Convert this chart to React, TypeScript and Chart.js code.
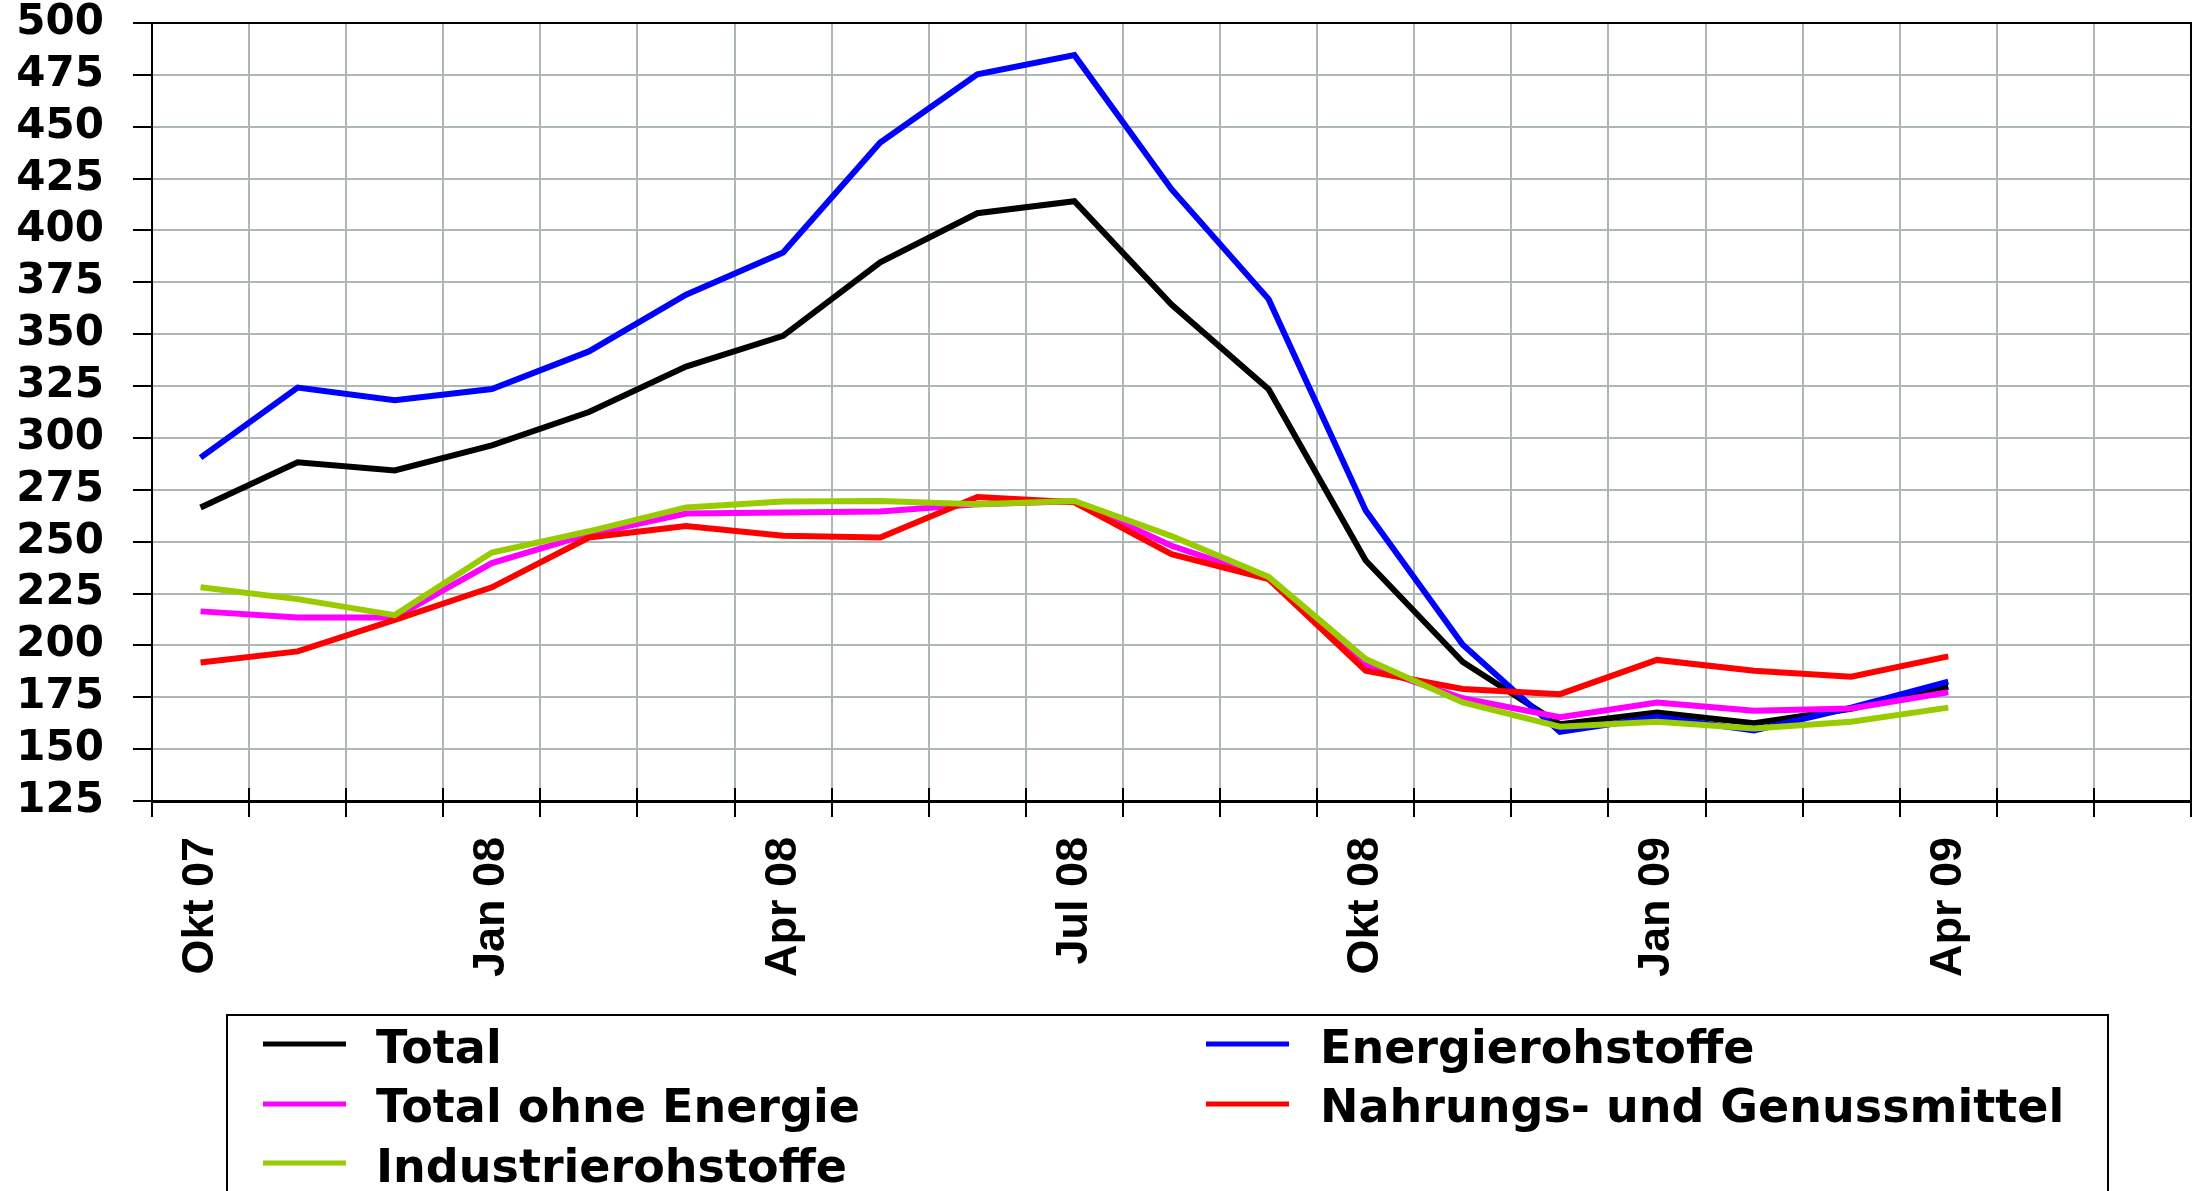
import React, { useEffect, useRef } from "react";
import { Chart, registerables } from "chart.js";

Chart.register(...registerables);

const months = [
  "Okt 07", "Nov 07", "Dez 07", "Jan 08", "Feb 08", "Mär 08", "Apr 08",
  "Mai 08", "Jun 08", "Jul 08", "Aug 08", "Sep 08", "Okt 08", "Nov 08",
  "Dez 08", "Jan 09", "Feb 09", "Mär 09", "Apr 09", "Mai 09", "Jun 09",
];

const total = [266.5, 288.3, 284.3, 296.4, 312.5, 334.4, 349.2, 384.6, 408.3, 414.1, 364.3, 323.5, 240.9, 192.0, 162.0, 167.7, 162.5, 169.5, 180.0];
const energierohstoffe = [290.5, 324.3, 318.2, 323.6, 341.7, 369.0, 389.4, 442.4, 475.3, 484.5, 419.9, 366.9, 265.0, 200.3, 158.3, 165.5, 159.0, 170.0, 182.5];
const totalOhneEnergie = [216.4, 213.5, 213.5, 239.7, 253.6, 263.6, 264.0, 264.5, 268.0, 269.5, 248.0, 232.4, 190.5, 174.5, 165.4, 172.5, 168.5, 169.6, 177.4];
const nahrungsmittel = [191.8, 197.1, 212.3, 228.0, 252.0, 257.6, 252.8, 252.0, 271.5, 269.0, 244.0, 232.0, 187.8, 179.0, 176.5, 193.0, 187.8, 184.9, 194.7];
const industrierohstoffe = [228.0, 222.3, 214.6, 244.8, 255.0, 266.5, 269.4, 269.6, 268.0, 269.6, 252.7, 233.0, 193.4, 172.5, 160.8, 163.2, 160.0, 163.2, 170.0];

const seriesNames = ["Total", "Energierohstoffe", "Total ohne Energie", "Nahrungs- und Genussmittel", "Industrierohstoffe"];
const seriesColors = ["#000000", "#0000ff", "#ff00ff", "#ff0000", "#99cc00"];
const seriesData = [total, energierohstoffe, totalOhneEnergie, nahrungsmittel, industrierohstoffe];

const yMin = 125;
const yMax = 500;
const yStep = 25;
const labelEvery = 3;

const W = 2199;
const H = 1191;
const GRID = "#adb8b4";

const framePlugin = {
  id: "frame",
  beforeDatasetsDraw(chart: any) {
    const { ctx, chartArea } = chart;
    const xs = chart.scales.x;
    ctx.save();
    ctx.strokeStyle = "#000";
    ctx.lineWidth = 2;
    ctx.strokeRect(chartArea.left, chartArea.top, chartArea.right - chartArea.left, chartArea.bottom - chartArea.top);
    const n = months.length;
    const step = (chartArea.right - chartArea.left) / n;
    for (let i = 0; i <= n; i++) {
      const x = Math.round(xs.getPixelForValue(i) - step / 2);
      ctx.beginPath();
      ctx.moveTo(x, chartArea.bottom - 13);
      ctx.lineTo(x, chartArea.bottom);
      ctx.stroke();
    }
    ctx.restore();
  },
};

const legendPlugin = {
  id: "customLegend",
  afterDraw(chart: any) {
    const { ctx } = chart;
    ctx.save();
    ctx.strokeStyle = "#000";
    ctx.lineWidth = 2;
    ctx.strokeRect(227, 1015, 2108 - 227, 300);
    ctx.font = "bold 46px 'DejaVu Sans'";
    ctx.textAlign = "left";
    ctx.textBaseline = "alphabetic";
    const cols = [
      { lx0: 263, lx1: 346, tx: 376 },
      { lx0: 1206, lx1: 1289, tx: 1320 },
    ];
    const rows = [
      { ly: 1044, ty: 1063 },
      { ly: 1104, ty: 1122 },
      { ly: 1163, ty: 1182 },
    ];
    chart.data.datasets.forEach((ds: any, i: number) => {
      const c = cols[i % 2];
      const r = rows[Math.floor(i / 2)];
      ctx.strokeStyle = ds.borderColor;
      ctx.lineWidth = 5;
      ctx.beginPath();
      ctx.moveTo(c.lx0, r.ly);
      ctx.lineTo(c.lx1, r.ly);
      ctx.stroke();
      ctx.fillStyle = "#000";
      ctx.fillText(ds.label, c.tx, r.ty);
    });
    ctx.restore();
  },
};

export default function App() {
  const ref = useRef<HTMLCanvasElement | null>(null);

  useEffect(() => {
    if (!ref.current) return;
    const chart = new Chart(ref.current, {
      type: "line",
      data: {
        labels: months,
        datasets: seriesData.map((d, i) => ({
          label: seriesNames[i],
          data: d,
          borderColor: seriesColors[i],
          backgroundColor: seriesColors[i],
          borderWidth: 6,
          pointRadius: 0,
          tension: 0,
          fill: false,
          order: seriesData.length - i,
        })),
      },
      options: {
        animation: false,
        responsive: false,
        devicePixelRatio: 1,
        layout: { padding: { top: 23, right: 8, bottom: 190, left: 0 } },
        plugins: { legend: { display: false }, tooltip: { enabled: false } },
        scales: {
          x: {
            type: "category",
            offset: true,
            grid: { offset: true, color: GRID, lineWidth: 2, tickColor: "#000", tickLength: 16, tickWidth: 2 },
            border: { color: "#000", width: 3 },
            ticks: {
              autoSkip: false,
              maxRotation: 90,
              minRotation: 90,
              padding: 20,
              color: "#000",
              font: { family: "'Liberation Sans', Arial", weight: "bold", size: 45 },
              callback: (_v: any, i: number) => (i % labelEvery === 0 ? months[i] : ""),
            },
            afterFit: (s: any) => {
              s.height = 200;
              s.paddingLeft = 0;
              s.paddingRight = 0;
            },
          },
          y: {
            min: yMin,
            max: yMax,
            grid: { color: GRID, lineWidth: 2, tickColor: "#000", tickLength: 19, tickWidth: 2 },
            border: { color: "#000", width: 2 },
            ticks: {
              stepSize: yStep,
              autoSkip: false,
              padding: 29,
              color: "#000",
              font: { family: "'DejaVu Sans'", weight: "bold", size: 42 },
            },
            afterFit: (s: any) => {
              s.width = 152;
              s.paddingTop = 0;
              s.paddingBottom = 0;
            },
          },
        },
      },
      plugins: [framePlugin, legendPlugin],
    });
    return () => chart.destroy();
  }, []);

  return (
    <div style={{ position: "fixed", left: 0, top: 0, width: W, height: H, background: "#fff" }}>
      <canvas ref={ref} width={W} height={H} style={{ width: W, height: H, display: "block" }} />
    </div>
  );
}
